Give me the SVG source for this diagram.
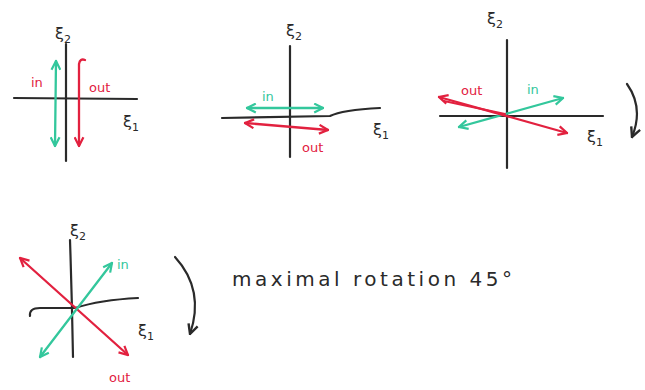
<svg xmlns="http://www.w3.org/2000/svg" width="645" height="390" viewBox="0 0 645 390">
<style>
.ax{stroke:#2a2a2a;stroke-width:2.2;fill:none;stroke-linecap:round;stroke-linejoin:round}
.r{stroke:#e2213f;stroke-width:2.3;fill:none;stroke-linecap:round;marker-start:url(#mr);marker-end:url(#mr)}
.g{stroke:#33c79c;stroke-width:2.3;fill:none;stroke-linecap:round;marker-start:url(#mg);marker-end:url(#mg)}
.lb{font-family:"DejaVu Sans",sans-serif;font-size:16px;fill:#2a2a2a}
.tr{font-family:"DejaVu Sans",sans-serif;font-size:13px;fill:#e2213f}
.tg{font-family:"DejaVu Sans",sans-serif;font-size:13px;fill:#33c79c}
.txt{font-family:"DejaVu Sans",sans-serif;font-size:20px;fill:#2a2a2a}
</style>
<defs>
<marker id="mr" viewBox="0 0 10 10" refX="9" refY="5" markerWidth="11" markerHeight="11" markerUnits="userSpaceOnUse" orient="auto-start-reverse"><path d="M1,1 L9,5 L1,9" fill="none" stroke="#e2213f" stroke-width="2"/></marker>
<marker id="mg" viewBox="0 0 10 10" refX="9" refY="5" markerWidth="11" markerHeight="11" markerUnits="userSpaceOnUse" orient="auto-start-reverse"><path d="M1,1 L9,5 L1,9" fill="none" stroke="#33c79c" stroke-width="2"/></marker>
<marker id="mk" viewBox="0 0 10 10" refX="9" refY="5" markerWidth="12" markerHeight="12" markerUnits="userSpaceOnUse" orient="auto"><path d="M1,1 L9,5 L1,9" fill="none" stroke="#2a2a2a" stroke-width="2"/></marker>
</defs>
<rect width="645" height="390" fill="#ffffff"/>

<!-- Panel 1 -->
<g id="panel1">
<line class="ax" x1="66" y1="44" x2="66" y2="161"/>
<line class="ax" x1="14" y1="98" x2="137" y2="99"/>
<line class="g" x1="56" y1="61" x2="55" y2="146"/>
<path d="M79,146 L79,64 Q80,58 85,60" stroke="#e2213f" stroke-width="2.3" fill="none" stroke-linecap="round" marker-start="url(#mr)"/>
<text class="tr" x="31" y="87">in</text>
<text class="tr" x="89" y="92" font-size="11">out</text>
<text class="lb" x="55" y="39">ξ<tspan font-size="11" dy="4">2</tspan></text>
<text class="lb" x="123" y="127">ξ<tspan font-size="11" dy="4">1</tspan></text>
</g>

<!-- Panel 2 -->
<g id="panel2">
<line class="ax" x1="290" y1="46" x2="290" y2="157"/>
<path class="ax" d="M222,118 L330,116 Q342,110 380,108"/>
<line class="g" x1="247" y1="108" x2="323" y2="108"/>
<line class="r" x1="245" y1="123" x2="328" y2="130"/>
<text class="tg" x="262" y="101">in</text>
<text class="tr" x="302" y="152">out</text>
<text class="lb" x="286" y="36">ξ<tspan font-size="11" dy="4">2</tspan></text>
<text class="lb" x="373" y="135">ξ<tspan font-size="11" dy="4">1</tspan></text>
</g>

<!-- Panel 3 -->
<g id="panel3">
<line class="ax" x1="507" y1="40" x2="507" y2="168"/>
<line class="ax" x1="440" y1="116" x2="603" y2="116"/>
<line class="g" x1="459" y1="127" x2="563" y2="98"/>
<line class="r" x1="567" y1="133" x2="439" y2="97"/>
<line x1="505" y1="114" x2="444" y2="101" stroke="#e2213f" stroke-width="2" stroke-linecap="round"/>
<text class="tr" x="461" y="95">out</text>
<text class="tg" x="527" y="94">in</text>
<text class="lb" x="487" y="24">ξ<tspan font-size="11" dy="4">2</tspan></text>
<text class="lb" x="587" y="142">ξ<tspan font-size="11" dy="4">1</tspan></text>
<path class="ax" d="M627,84 Q644,108 632,137" marker-end="url(#mk)"/>
</g>

<!-- Panel 4 -->
<g id="panel4">
<path class="ax" d="M70,240 Q72,300 73,357"/>
<path class="ax" d="M30,316 Q29,308 40,308 L75,308 Q100,300 138,298"/>
<line class="r" x1="20" y1="258" x2="128" y2="355"/>
<line class="g" x1="40" y1="357" x2="112" y2="263"/>
<text class="tg" x="117" y="269">in</text>
<text class="tr" x="109" y="382">out</text>
<text class="lb" x="70" y="236">ξ<tspan font-size="11" dy="4">2</tspan></text>
<text class="lb" x="138" y="336">ξ<tspan font-size="11" dy="4">1</tspan></text>
<path class="ax" d="M175,257 Q205,290 190,334" marker-end="url(#mk)"/>
</g>

<text class="txt" x="232" y="286" textLength="280" lengthAdjust="spacing">maximal rotation 45°</text>
</svg>
